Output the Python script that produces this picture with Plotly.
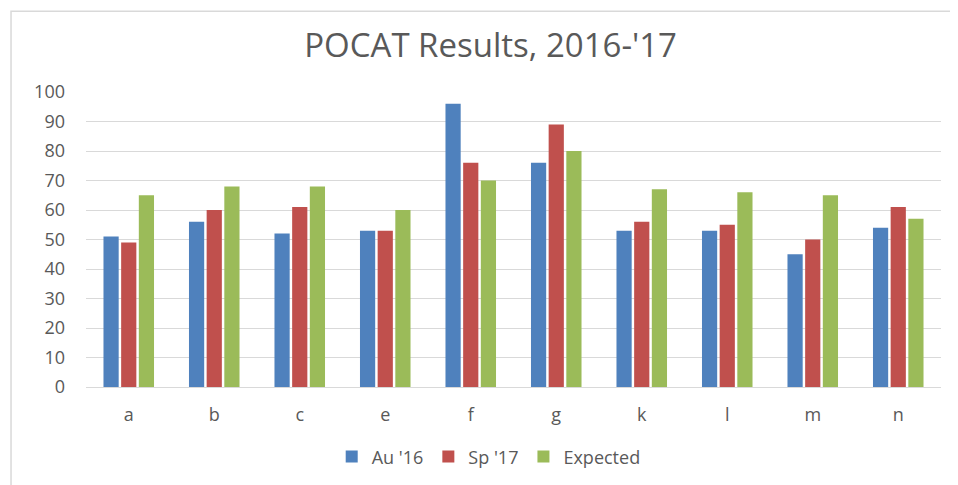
import plotly.graph_objects as go

categories = ["a", "b", "c", "e", "f", "g", "k", "l", "m", "n"]
au16 = [51, 56, 52, 53, 96, 76, 53, 53, 45, 54]
sp17 = [49, 60, 61, 53, 76, 89, 56, 55, 50, 61]
expected = [65, 68, 68, 60, 70, 80, 67, 66, 65, 57]
y_ticks = [0, 10, 20, 30, 40, 50, 60, 70, 80, 90, 100]

FONT = "'Open Sans', sans-serif"
TXT = "#595959"

fig = go.Figure()
for name, vals, col in [("Au '16", au16, "#4F81BD"),
                        ("Sp '17", sp17, "#C0504D"),
                        ("Expected", expected, "#9BBB59")]:
    fig.add_trace(go.Bar(x=categories, y=vals, name=name,
                         marker=dict(color=col, line=dict(width=0))))

fig.update_layout(
    width=950, height=477,
    paper_bgcolor="white", plot_bgcolor="white",
    margin=dict(l=78, r=17, t=84, b=98, autoexpand=False),
    barmode="group", bargap=0.38, bargroupgap=0.14,
    title=dict(text="POCAT Results, 2016-'17", x=0.508, xanchor="center",
               y=1 - 37 / 477, yanchor="middle",
               font=dict(family=FONT, size=33, color=TXT)),
    font=dict(family=FONT, size=18, color=TXT),
    xaxis=dict(showgrid=False, showline=True, linecolor="#d9d9d9", linewidth=1,
               ticks="", ticklabelstandoff=11, tickfont=dict(size=18, color=TXT)),
    yaxis=dict(range=[0, 100], tickvals=y_ticks, showgrid=True, gridcolor="#d9d9d9",
               gridwidth=1, zeroline=False, showline=False, ticks="",
               ticklabelstandoff=20, tickfont=dict(size=18, color=TXT)),
    legend=dict(orientation="h", x=0.471, xanchor="center", y=-0.237, yanchor="middle",
                font=dict(size=18, color=TXT), itemwidth=30, traceorder="normal"),
    shapes=[dict(type="rect", xref="paper", yref="paper",
                 x0=-0.0877, x1=1.2, y0=-0.5, y1=1.274,
                 line=dict(color="#d9d9d9", width=1.5), fillcolor="rgba(0,0,0,0)",
                 layer="below")],
)

fig.write_html("out.html")
